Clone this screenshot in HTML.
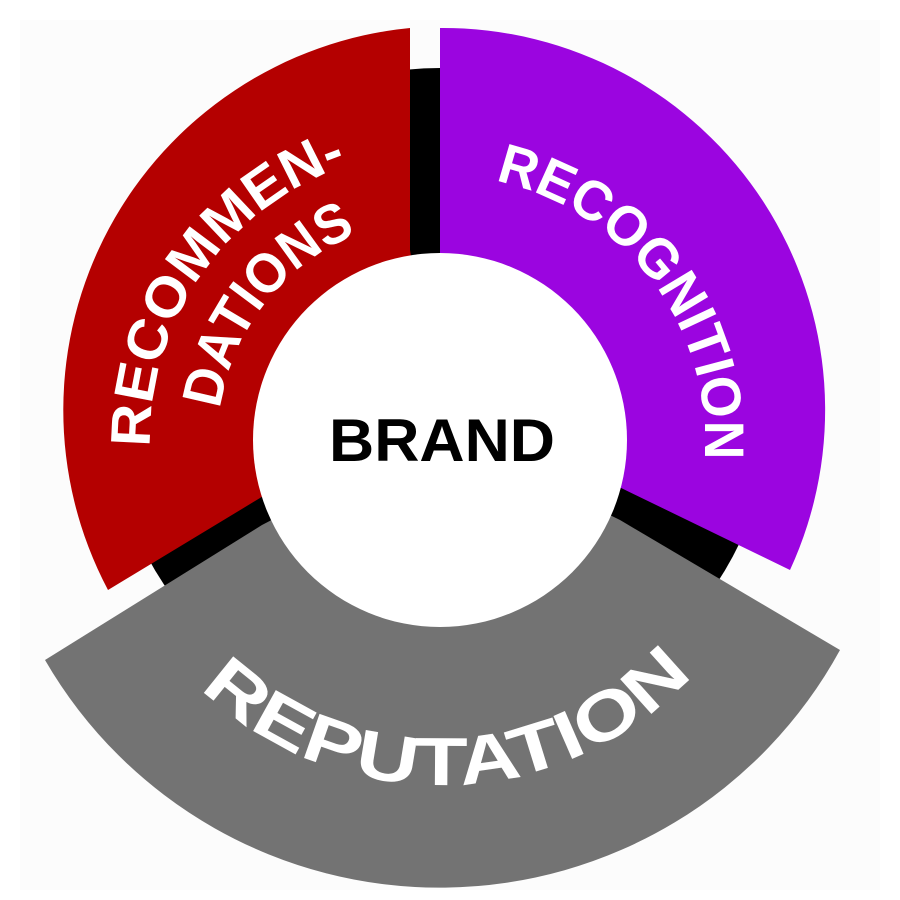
<!DOCTYPE html>
<html><head><meta charset="utf-8"><style>
html,body{margin:0;padding:0;background:#fff;}
svg{display:block;}
text{font-family:"Liberation Sans",sans-serif;font-weight:bold;}
</style></head><body>
<svg width="900" height="900" viewBox="0 0 900 900" xmlns="http://www.w3.org/2000/svg">
<rect x="0" y="0" width="900" height="900" fill="#ffffff"/>
<rect x="20" y="20" width="860" height="870" fill="#fcfcfc"/>
<circle cx="440" cy="400" r="332" fill="#000"/>
<path d="M410,250 L410,28 A384,384 0 0 0 108,590 L265,495 L440,440 Z" fill="#b40000"/>
<path d="M440,250 L440,28 A382,382 0 0 1 790,570 L615,485 L440,420 Z" fill="#9b05e0"/>
<path d="M45,660 A456,456 0 0 0 840,650 L620,520 L440,432 L262,525 Z" fill="#737373"/>
<circle cx="440" cy="440" r="187" fill="#fff"/>
<defs>
<path id="pRec" d="M495.1,180.8 A265,265 0 0 1 703.5,467.7"/>
<path id="pRcm" d="M150.1,447.1 A290,290 0 0 1 350.4,164.2"/>
<path id="pDat" d="M220.2,409.1 A222,222 0 0 1 349.7,237.2"/>
<path id="pRep" d="M200.3,688.2 A345,345 0 0 0 704.3,661.8"/>
</defs>
<text font-size="56" fill="#fff"><textPath href="#pRec" textLength="380" lengthAdjust="spacingAndGlyphs">RECOGNITION</textPath></text>
<text font-size="56" fill="#fff"><textPath href="#pRcm" textLength="368" lengthAdjust="spacingAndGlyphs">RECOMMEN-</textPath></text>
<text font-size="56" fill="#fff"><textPath href="#pDat" textLength="232" lengthAdjust="spacingAndGlyphs">DATIONS</textPath></text>
<text font-size="68" fill="#fff"><textPath href="#pRep" textLength="548" lengthAdjust="spacingAndGlyphs">REPUTATION</textPath></text>
<text x="442" y="461" font-size="60" fill="#000" text-anchor="middle" textLength="226" lengthAdjust="spacingAndGlyphs">BRAND</text>
</svg>
</body></html>
